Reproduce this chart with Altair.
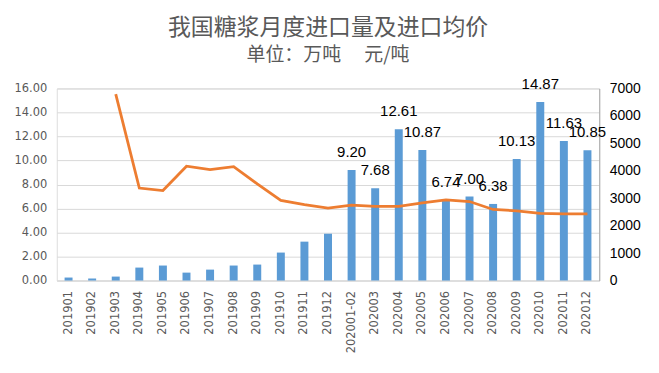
import altair as alt
import pandas as pd

months = ["201901", "201902", "201903", "201904", "201905", "201906", "201907",
          "201908", "201909", "201910", "201911", "201912", "202001-02", "202003",
          "202004", "202005", "202006", "202007", "202008", "202009", "202010",
          "202011", "202012"]
volume = [0.25, 0.17, 0.33, 1.08, 1.25, 0.66, 0.91, 1.25, 1.33, 2.33, 3.24, 3.90,
          9.20, 7.68, 12.61, 10.87, 6.74, 7.00, 6.38, 10.13, 14.87, 11.63, 10.85]
price = [None, None, 6790, 3370, 3280, 4165, 4045, 4150, 3520, 2920, 2770, 2640,
         2750, 2700, 2700, 2830, 2940, 2880, 2590, 2540, 2445, 2430, 2430]
labeled = [False] * 12 + [True] * 11
left_ticks = [0, 2, 4, 6, 8, 10, 12, 14, 16]
right_ticks = [0, 1000, 2000, 3000, 4000, 5000, 6000, 7000]

df = pd.DataFrame({
    "month": months,
    "volume": volume,
    "price": price,
    "label": [f"{v:.2f}" if s else "" for v, s in zip(volume, labeled)],
})

x = alt.X("month:N", sort=months, title=None,
          scale=alt.Scale(paddingInner=0, paddingOuter=0),
          axis=alt.Axis(labelAngle=270, labelAlign="right", labelBaseline="middle",
                        labelPadding=10, ticks=False, domainColor="#D9D9D9",
                        labelColor="#595959", labelFont="DejaVu Sans", labelFontSize=11.5))

yleft = alt.Y("volume:Q", title=None,
              scale=alt.Scale(domain=[0, 16], nice=False),
              axis=alt.Axis(values=left_ticks, tickCount=9, format=".2f", ticks=False,
                            domain=False, gridColor="#D9D9D9", labelColor="#595959",
                            labelFont="DejaVu Sans", labelFontSize=11.5, labelPadding=10,
                            labelOverlap=False))

bars = alt.Chart(df).mark_bar(color="#5B9BD5", size=8).encode(x=x, y=yleft)
text = alt.Chart(df).mark_text(font="Liberation Sans", fontSize=15, color="#000000",
                               baseline="alphabetic", dy=-13).encode(
    x=x, y=yleft, text="label:N")

line = alt.Chart(df).mark_line(color="#ED7D31", strokeWidth=2.8).encode(
    x=x,
    y=alt.Y("price:Q", title=None, scale=alt.Scale(domain=[0, 7000], nice=False),
            axis=alt.Axis(orient="right", values=right_ticks, format="d",
                          ticks=False, grid=False, domainColor="#A6A6A6",
                          labelColor="#000000", labelFont="Liberation Sans",
                          labelFontSize=14, labelPadding=10, labelOverlap=False)))

chart = alt.layer(alt.layer(bars, text), line).resolve_scale(y="independent").properties(
    width=545, height=193,
    autosize=alt.AutoSizeParams(type="none"),
    padding={"left": 49, "top": 80, "right": 52, "bottom": 77},
    title=alt.TitleParams(
        text="我国糖浆月度进口量及进口均价",
        subtitle="单位：万吨　 元/吨",
        font="Noto Sans CJK SC", fontSize=23, fontWeight="normal", color="#595959",
        subtitleFont="Noto Sans CJK SC", subtitleFontSize=19, subtitleColor="#595959",
        subtitlePadding=6, anchor="middle", offset=12),
).configure_view(stroke=None).configure(background="white")

chart.save("out.html", embed_options={"renderer": "svg", "actions": False})
